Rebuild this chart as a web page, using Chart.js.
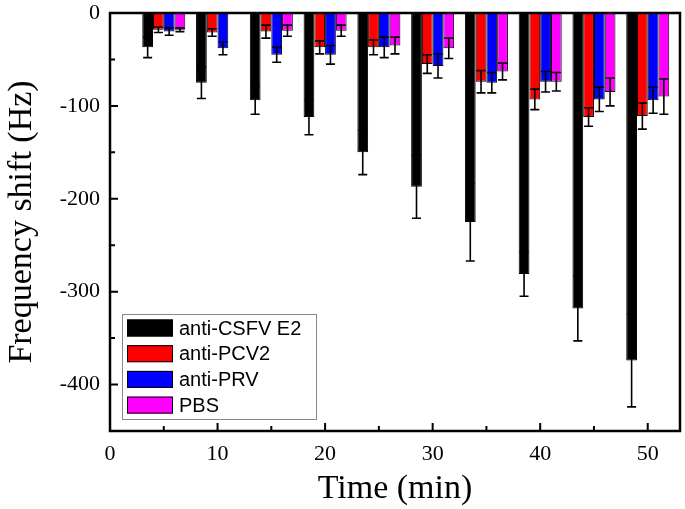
<!DOCTYPE html>
<html>
<head>
<meta charset="utf-8">
<script src="https://cdn.jsdelivr.net/npm/chart.js@4/dist/chart.umd.min.js"></script>
<style>
  html, body { margin: 0; background: #fff; }
  #wrap { width: 685px; height: 509px; }
</style>
</head>
<body>
<div id="wrap"><canvas id="freq-chart"></canvas></div>
<script>
// time points (min)
const times = [5, 10, 15, 20, 25, 30, 35, 40, 45, 50];
const seriesNames = ["anti-CSFV E2", "anti-PCV2", "anti-PRV", "PBS"];
const seriesColors = ["#000000", "#ff0000", "#0000ff", "#ff00ff"];

// frequency shift (Hz) and error
const csfv    = [-37, -75, -94, -112, -150, -187, -225, -281, -318, -374];
const csfvErr = [11, 17, 15, 19, 24, 34, 42, 24, 35, 50];
const pcv2    = [-18, -21, -20, -37, -37, -55, -74, -93, -112, -111];
const pcv2Err = [3, 4, 7, 7, 8, 10, 12, 11, 10, 14];
const prv     = [-20, -38, -45, -45, -37, -57, -75, -74, -93, -94];
const prvErr  = [4, 7, 8, 10, 11, 13, 11, 11, 13, 14];
const pbs     = [-18, null, -19, -19, -35, -38, -63, -74, -85, -90];
const pbsErr  = [2, 0, 6, 6, 9, 11, 9, 10, 15, 19];

const xTicks = [0, 10, 20, 30, 40, 50];
const yTicks = [0, -100, -200, -300, -400];

const values = [csfv, pcv2, prv, pbs];
const errors = [csfvErr, pcv2Err, prvErr, pbsErr];

const serif = "'Liberation Serif', 'Times New Roman', serif";
const sans = "'Liberation Sans', Arial, sans-serif";

function makeDataset(k) {
  return {
    label: seriesNames[k],
    data: times.map((t, i) => ({ x: t, y: values[k][i] })),
    errors: errors[k],
    backgroundColor: seriesColors[k],
    borderColor: "#000",
    borderWidth: 1,
    categoryPercentage: 0.8,
    barPercentage: 1.0
  };
}

// error bars drawn on top of the bars
const errorBars = {
  id: "errorBars",
  afterDatasetsDraw(chart) {
    const ctx = chart.ctx;
    const y = chart.scales.y;
    ctx.save();
    ctx.strokeStyle = "#000";
    ctx.lineWidth = 1.6;
    chart.data.datasets.forEach((ds, i) => {
      const meta = chart.getDatasetMeta(i);
      meta.data.forEach((bar, j) => {
        const v = ds.data[j].y;
        if (v == null || !ds.errors[j]) return;
        const e = ds.errors[j];
        const y1 = y.getPixelForValue(v + e);
        const y2 = y.getPixelForValue(v - e);
        const x = bar.x, w = 4.5;
        ctx.beginPath();
        ctx.moveTo(x, y1); ctx.lineTo(x, y2);
        ctx.moveTo(x - w, y1); ctx.lineTo(x + w, y1);
        ctx.moveTo(x - w, y2); ctx.lineTo(x + w, y2);
        ctx.stroke();
      });
    });
    ctx.restore();
  }
};

// box frame and inward ticks, Origin style
const frame = {
  id: "frame",
  afterDraw(chart) {
    const ctx = chart.ctx;
    const ca = chart.chartArea;
    const xs = chart.scales.x, ys = chart.scales.y;
    ctx.save();
    ctx.strokeStyle = "#000";
    ctx.lineWidth = 2.5;
    ctx.strokeRect(ca.left, ca.top, ca.right - ca.left, ca.bottom - ca.top);
    ctx.lineWidth = 2;
    ctx.beginPath();
    for (let t = 5; t <= 50; t += 5) {
      const px = xs.getPixelForValue(t);
      const len = t % 10 === 0 ? 8 : 5;
      ctx.moveTo(px, ca.bottom); ctx.lineTo(px, ca.bottom - len);
    }
    for (let v = -50; v >= -400; v -= 50) {
      const py = ys.getPixelForValue(v);
      const len = v % 100 === 0 ? 8 : 5;
      ctx.moveTo(ca.left, py); ctx.lineTo(ca.left + len, py);
    }
    ctx.stroke();
    ctx.restore();
  }
};

// legend box in lower left of the plot
const boxLegend = {
  id: "boxLegend",
  afterDraw(chart) {
    const ctx = chart.ctx;
    const ca = chart.chartArea;
    const left = ca.left + 12, top = ca.bottom - 117;
    ctx.save();
    ctx.strokeStyle = "#888";
    ctx.lineWidth = 1;
    ctx.strokeRect(left + 0.5, top + 0.5, 194, 105);
    ctx.font = "20px " + sans;
    ctx.textBaseline = "middle";
    chart.data.datasets.forEach((ds, i) => {
      const cy = top + 14 + i * 25.7;
      ctx.fillStyle = ds.backgroundColor;
      ctx.fillRect(left + 5, cy - 8.5, 46, 17);
      ctx.strokeStyle = "#000";
      ctx.strokeRect(left + 5.5, cy - 8, 45, 16);
      ctx.fillStyle = "#000";
      ctx.fillText(ds.label, left + 57, cy + 1);
    });
    ctx.restore();
  }
};

new Chart(document.getElementById("freq-chart"), {
  type: "bar",
  data: { datasets: [0, 1, 2, 3].map(makeDataset) },
  plugins: [errorBars, frame, boxLegend],
  options: {
    responsive: true,
    maintainAspectRatio: false,
    animation: false,
    layout: { padding: { top: 13, right: 5, left: 0, bottom: 0 } },
    plugins: { legend: { display: false }, tooltip: { enabled: false } },
    scales: {
      x: {
        type: "linear",
        offset: false,
        min: 0,
        max: 53,
        grid: { display: false, drawTicks: false, offset: false },
        border: { display: false },
        afterFit: s => { s.height = 78; s.paddingLeft = 0; s.paddingRight = 0; },
        afterBuildTicks: s => { s.ticks = xTicks.map(v => ({ value: v })); },
        ticks: { padding: 10, color: "#000", font: { family: serif, size: 22 }, maxRotation: 0 },
        title: { display: true, text: "Time (min)", color: "#000", font: { family: serif, size: 34 }, padding: { top: 0, bottom: 0 } }
      },
      y: {
        min: -450,
        max: 0,
        grid: { display: false, drawTicks: false },
        border: { display: false },
        afterFit: s => { s.width = 110; s.paddingTop = 0; s.paddingBottom = 0; },
        afterBuildTicks: s => { s.ticks = yTicks.map(v => ({ value: v })); },
        ticks: { padding: 10, color: "#000", font: { family: serif, size: 22 } },
        title: { display: true, text: "Frequency shift (Hz)", color: "#000", font: { family: serif, size: 34 }, padding: { top: 2, bottom: 0 } }
      }
    }
  }
});
</script>
</body>
</html>
